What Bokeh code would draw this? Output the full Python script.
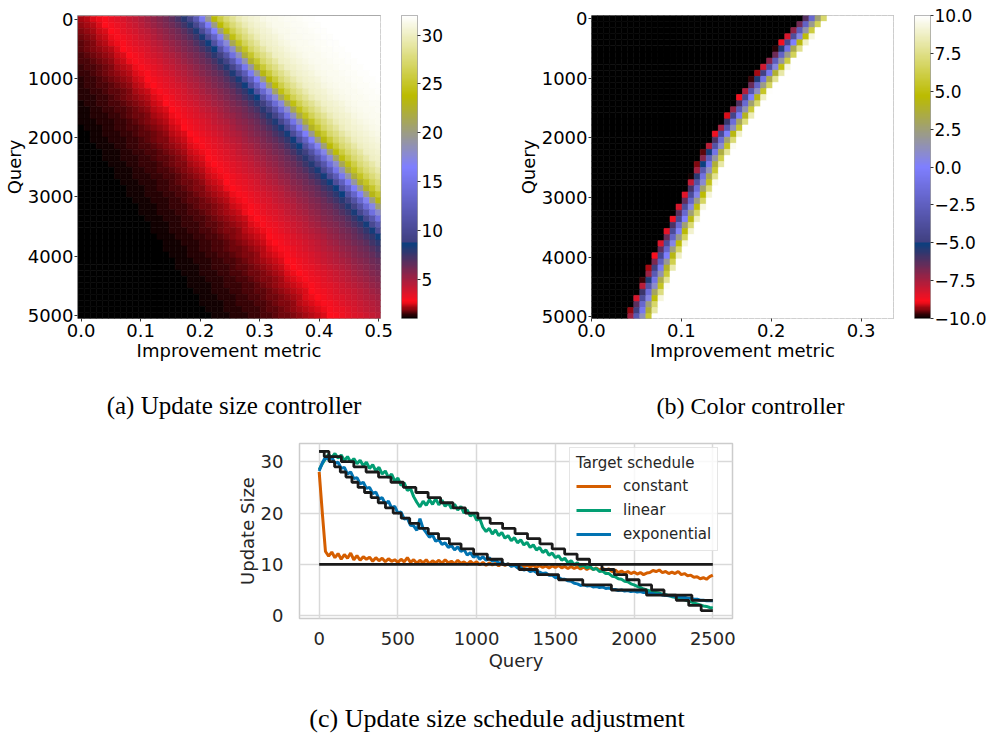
import numpy as np
from bokeh.plotting import figure
from bokeh.layouts import row, column
from bokeh.models import (Range1d, LinearColorMapper, Legend, LegendItem, Label,
                          FixedTicker, ColumnDataSource)
from bokeh.transform import transform
from bokeh.embed import file_html
from bokeh.resources import INLINE

# ---------------- data: panel (a) update size controller ----------------
a_metric_cells = np.linspace(0.0, 0.5, 50)
a_query_cells = np.linspace(0.0, 5000.0, 50)
# metric of the bright red ridge, per query row
a_red_metric = [0.032, 0.040, 0.048, 0.056, 0.063, 0.071, 0.079, 0.087, 0.095, 0.103,
                0.111, 0.118, 0.126, 0.134, 0.142, 0.150, 0.158, 0.166, 0.173, 0.181,
                0.189, 0.197, 0.205, 0.213, 0.221, 0.228, 0.236, 0.244, 0.252, 0.260,
                0.268, 0.276, 0.283, 0.291, 0.299, 0.307, 0.315, 0.323, 0.331, 0.338,
                0.346, 0.354, 0.362, 0.370, 0.378, 0.386, 0.393, 0.401, 0.409, 0.417]
# metric distance between the red ridge and the navy band, per query row
a_band_width = [0.149, 0.150, 0.151, 0.152, 0.153, 0.154, 0.155, 0.156, 0.157, 0.158,
                0.159, 0.160, 0.161, 0.162, 0.164, 0.165, 0.166, 0.167, 0.168, 0.169,
                0.170, 0.171, 0.172, 0.173, 0.174, 0.175, 0.176, 0.177, 0.178, 0.179,
                0.180, 0.181, 0.182, 0.184, 0.185, 0.186, 0.187, 0.188, 0.189, 0.190,
                0.191, 0.192, 0.193, 0.194, 0.195, 0.196, 0.197, 0.198, 0.199, 0.200]
# controller response across the band (position in band widths -> update size)
a_profile_pos = [-3.0, -1.25, -1.0, -0.75, -0.5, -0.25, -0.1, 0.0, 0.1, 0.25, 0.45, 0.8,
                 0.93, 1.0, 1.09, 1.16, 1.23, 1.3, 1.4, 1.6, 1.9, 2.5]
a_profile_size = [1.0, 1.0, 1.12, 1.3, 1.55, 2.0, 2.4, 2.7, 3.1, 3.7, 4.6, 6.5,
                  7.7, 8.75, 12.0, 16.0, 20.0, 24.0, 27.0, 30.0, 31.3, 32.0]

# ---------------- data: panel (b) color controller ----------------
b_metric_cells = (np.arange(50) + 0.5) * 0.336 / 50
b_query_cells = np.linspace(0.0, 5000.0, 50)
# metric of the red edge cell, per query row
b_edge_metric = [0.235, 0.229, 0.223, 0.218, 0.212, 0.207, 0.202, 0.196, 0.191, 0.186,
                 0.180, 0.175, 0.170, 0.165, 0.161, 0.156, 0.152, 0.147, 0.143, 0.138,
                 0.134, 0.130, 0.126, 0.122, 0.119, 0.116, 0.113, 0.110, 0.107, 0.104,
                 0.101, 0.097, 0.094, 0.091, 0.087, 0.084, 0.081, 0.077, 0.074, 0.071,
                 0.068, 0.065, 0.062, 0.059, 0.056, 0.053, 0.050, 0.047, 0.045, 0.042]
b_transition_slope = 650.0   # color units per unit of metric across the edge

# ---------------- data: panel (c) update size schedule ----------------
queries = list(range(0, 2501, 20))
size_constant = [28.0, 20.0, 12.5, 11.6, 12.4, 11.3, 12.1, 11.0, 11.9, 11.2,
                 12.2, 10.9, 11.7, 10.8, 11.5, 11.0, 11.4, 10.6, 11.3, 10.7,
                 11.2, 10.5, 11.1, 10.6, 10.9, 10.4, 11.0, 10.5, 11.3, 10.4,
                 10.9, 10.2, 10.8, 10.3, 10.9, 10.1, 10.7, 10.3, 10.8, 10.2,
                 10.9, 10.3, 10.6, 10.1, 10.8, 10.2, 10.5, 10.0, 10.6, 10.1,
                 10.5, 9.9, 10.4, 9.8, 10.3, 9.9, 10.2, 9.7, 10.2, 9.8,
                 10.1, 9.7, 10.0, 9.6, 10.0, 9.5, 9.9, 9.5, 9.8, 9.4,
                 9.8, 9.4, 9.7, 9.3, 9.7, 9.4, 9.8, 9.3, 9.6, 9.2,
                 9.6, 9.2, 9.5, 9.1, 9.5, 9.0, 9.4, 9.0, 9.3, 8.9,
                 9.2, 8.9, 9.1, 8.6, 8.9, 8.4, 8.7, 8.3, 8.6, 8.2,
                 8.5, 8.1, 8.4, 8.0, 8.3, 8.4, 8.8, 8.6, 8.9, 8.4,
                 8.6, 8.2, 8.5, 8.2, 8.6, 8.0, 8.2, 7.8, 7.9, 7.5,
                 7.6, 7.2, 7.4, 7.1, 7.6, 7.9]
size_linear = [28.5, 29.6, 30.6, 31.4, 30.8, 31.6, 30.7, 31.3, 30.2, 31.0,
               29.9, 30.6, 29.6, 30.3, 29.2, 29.9, 28.7, 29.4, 28.2, 28.9,
               27.6, 28.2, 26.9, 27.6, 26.2, 26.8, 25.4, 25.9, 24.4, 24.8,
               23.2, 22.1, 21.2, 22.3, 21.5, 22.6, 21.7, 22.8, 21.6, 22.5,
               21.3, 22.0, 20.9, 21.7, 20.6, 21.3, 20.0, 20.6, 19.4, 19.9,
               18.6, 18.9, 17.2, 16.4, 17.0, 15.9, 16.7, 15.6, 16.2, 15.1,
               15.6, 14.6, 15.2, 14.2, 14.8, 13.8, 14.3, 13.3, 13.8, 12.8,
               13.3, 12.3, 12.8, 11.8, 12.2, 11.3, 11.7, 10.8, 11.2, 10.3,
               10.7, 9.9, 10.3, 9.6, 9.9, 9.3, 9.6, 9.0, 9.2, 8.6,
               8.7, 8.2, 8.2, 7.7, 7.6, 7.2, 7.1, 6.7, 6.6, 6.2,
               6.0, 5.7, 5.5, 5.2, 5.0, 4.8, 4.7, 4.5, 4.4, 4.2,
               4.1, 3.9, 3.7, 3.6, 3.4, 3.3, 3.1, 2.9, 2.7, 2.5,
               2.3, 2.1, 1.9, 1.8, 1.6, 1.5]
size_exponential = [28.2, 29.8, 30.9, 30.4, 30.9, 29.7, 29.9, 28.7, 28.9, 27.6,
                    28.0, 26.7, 26.9, 25.7, 26.0, 24.8, 25.0, 23.8, 24.1, 22.7,
                    23.0, 21.8, 22.3, 21.0, 21.3, 20.0, 20.2, 18.8, 19.0, 17.6,
                    17.5, 16.6, 18.9, 17.0, 16.2, 15.3, 15.7, 14.5, 14.8, 13.9,
                    14.2, 13.3, 13.7, 12.8, 13.4, 12.5, 12.9, 11.8, 12.3, 11.4,
                    11.8, 11.0, 11.5, 10.8, 11.3, 10.6, 10.9, 10.2, 10.4, 9.9,
                    10.1, 9.6, 9.8, 9.3, 9.4, 8.9, 9.1, 8.6, 8.8, 8.4,
                    8.5, 8.2, 8.3, 7.9, 7.9, 7.4, 7.5, 7.1, 7.1, 6.8,
                    6.7, 6.3, 6.2, 5.9, 6.0, 5.8, 5.9, 5.6, 5.7, 5.5,
                    5.6, 5.3, 5.4, 5.1, 5.1, 4.9, 5.0, 4.8, 4.9, 4.7,
                    4.8, 4.6, 4.7, 4.5, 4.5, 4.3, 4.3, 4.1, 4.2, 4.0,
                    4.0, 3.9, 3.9, 3.7, 3.8, 3.6, 3.6, 3.4, 3.4, 3.2,
                    3.2, 3.0, 3.0, 2.9, 2.9, 2.9]
# target schedules (step breakpoints)
target_constant_q = [0, 2500]
target_constant_v = [10, 10]
target_linear_q = [0, 62, 141, 220, 298, 377, 456, 535, 614, 692, 771, 850, 929, 1008,
                   1086, 1165, 1244, 1323, 1402, 1480, 1559, 1638, 1717, 1796, 1874,
                   1953, 2032, 2111, 2190, 2268, 2347, 2426, 2500]
target_linear_v = [32, 31, 30, 29, 28, 27, 26, 25, 24, 23, 22, 21, 20, 19, 18, 17, 16,
                   15, 14, 13, 12, 11, 10, 9, 8, 7, 6, 5, 4, 3, 2, 1, 1]
target_exp_q = [0, 32, 64, 98, 134, 170, 208, 247, 288, 330, 375, 421, 470, 521, 575,
                633, 693, 758, 827, 901, 981, 1068, 1163, 1269, 1386, 1520, 1674,
                1856, 2079, 2367, 2500]
target_exp_v = [32, 31, 30, 29, 28, 27, 26, 25, 24, 23, 22, 21, 20, 19, 18, 17, 16,
                15, 14, 13, 12, 11, 10, 9, 8, 7, 6, 5, 4, 3, 3]

captions_top = ["(a) Update size controller", "(b) Color controller"]
caption_bottom = "(c) Update size schedule adjustment"


# ---------------- colormap (gist_stern) ----------------
def gist_stern(n=256):
    red = [(0.0, 0.0, 0.0), (0.0547, 1.0, 1.0), (0.250, 0.027, 0.250), (1.0, 1.0, 1.0)]
    green = [(0.0, 0.0, 0.0), (1.0, 1.0, 1.0)]
    blue = [(0.0, 0.0, 0.0), (0.5, 1.0, 1.0), (0.735, 0.0, 0.0), (1.0, 1.0, 1.0)]

    def chan(seg, t):
        for (x0, _, y0), (x1, y1, _) in zip(seg[:-1], seg[1:]):
            if x0 <= t <= x1:
                return y0 + (y1 - y0) * (t - x0) / (x1 - x0)
        return seg[-1][1]
    out = []
    for i in range(n):
        t = i / (n - 1)
        r, g, b = (chan(s, t) for s in (red, green, blue))
        out.append("#%02x%02x%02x" % (round(r * 255), round(g * 255), round(b * 255)))
    return out


PAL = gist_stern()
FONT = "DejaVu Sans"
SERIF = "Liberation Serif"
TOP_H = 385

mapper_a = LinearColorMapper(palette=PAL, low=1, high=32)
mapper_b = LinearColorMapper(palette=PAL, low=-10, high=10)


def style_heat_axes(p, xticks, xlabels):
    p.grid.visible = False
    p.outline_line_color = "#a0a0a0"
    p.outline_line_width = 1
    for ax in (p.xaxis, p.yaxis):
        ax.axis_line_color = None
        ax.major_tick_out = 3
        ax.major_tick_in = 0
        ax.major_tick_line_color = "#333333"
        ax.minor_tick_line_color = None
        ax.major_label_text_font = FONT
        ax.major_label_text_font_size = "18px"
        ax.major_label_text_color = "black"
        ax.axis_label_text_font = FONT
        ax.axis_label_text_font_size = "18px"
        ax.axis_label_text_font_style = "normal"
        ax.axis_label_text_color = "black"
    p.xaxis.ticker = FixedTicker(ticks=xticks)
    p.xaxis.major_label_overrides = {t: l for t, l in zip(xticks, xlabels)}
    p.yaxis.ticker = FixedTicker(ticks=[0, 1000, 2000, 3000, 4000, 5000])
    p.xaxis.major_label_standoff = 2
    p.yaxis.major_label_standoff = 1
    p.xaxis.axis_label_standoff = 0
    p.yaxis.axis_label_standoff = 0
    p.xaxis.axis_label = "Improvement metric"
    p.yaxis.axis_label = "Query"


def add_cells(p, xs, ys, vals, w, h, mapper):
    X, Y = np.meshgrid(xs, ys)
    src = ColumnDataSource(dict(x=X.ravel(), y=Y.ravel(), v=np.asarray(vals).ravel()))
    p.rect(x="x", y="y", width=w, height=h, source=src,
           fill_color=transform("v", mapper), line_color=transform("v", mapper),
           line_width=0.6)


def colorbar_fig(width, mb_left, mb_right, mb_top, lo, hi, mapper, ticks, labels):
    c = figure(width=width, height=TOP_H, x_range=(0, 1), y_range=(lo, hi),
               x_axis_location=None, y_axis_location="right",
               min_border_left=mb_left, min_border_right=mb_right,
               min_border_top=mb_top, min_border_bottom=TOP_H - 318,
               output_backend="svg", toolbar_location=None)
    c.image(image=[np.linspace(lo, hi, 256).reshape(256, 1)], x=0, y=lo, dw=1, dh=hi - lo,
            color_mapper=mapper)
    c.grid.visible = False
    c.outline_line_color = "#a0a0a0"
    ax = c.yaxis
    ax.axis_line_color = None
    ax.major_tick_out = 3
    ax.major_tick_in = 0
    ax.major_tick_line_color = "#333333"
    ax.minor_tick_line_color = None
    ax.ticker = FixedTicker(ticks=ticks)
    ax.major_label_overrides = {t: l for t, l in zip(ticks, labels)}
    ax.major_label_text_font = FONT
    ax.major_label_text_font_size = "17px"
    ax.major_label_text_color = "black"
    ax.major_label_standoff = 1
    return c


def caption_strip(height, items):
    s = figure(width=990, height=height, x_range=Range1d(0, 990), y_range=Range1d(0, height),
               x_axis_location=None, y_axis_location=None, min_border=0,
               output_backend="svg", toolbar_location=None)
    s.outline_line_color = None
    s.xgrid.visible = False
    s.ygrid.visible = False
    for text, cx, cy, size in items:
        s.add_layout(Label(x=cx, y=cy, text=text, text_align="center", text_baseline="middle",
                           text_font=SERIF, text_font_size=size, text_color="black"))
    return row(s)


# ---------------- panel (a) ----------------
rows_a = []
for red, wid in zip(a_red_metric, a_band_width):
    rows_a.append(np.interp((a_metric_cells - red) / wid, a_profile_pos, a_profile_size))
fa = figure(width=395, height=TOP_H, x_range=Range1d(-0.006, 0.503), y_range=Range1d(5050, -62),
            min_border_left=73, min_border_right=15, min_border_top=13, min_border_bottom=TOP_H - 318,
            output_backend="svg", toolbar_location=None)
add_cells(fa, a_metric_cells, a_query_cells, rows_a, 0.5 / 49, 5000 / 49, mapper_a)
style_heat_axes(fa, [0, 0.1, 0.2, 0.3, 0.4, 0.5], ["0.0", "0.1", "0.2", "0.3", "0.4", "0.5"])

cba = colorbar_fig(95, 6, 73, 13, 1, 32, mapper_a, [5, 10, 15, 20, 25, 30],
                   ["5", "10", "15", "20", "25", "30"])

# ---------------- panel (b) ----------------
rows_b = []
for edge in b_edge_metric:
    rows_b.append(np.clip(-10 + (b_metric_cells - (edge - 0.0023)) * b_transition_slope, -10, 10))
fb = figure(width=418, height=TOP_H, x_range=Range1d(0, 0.336), y_range=Range1d(5030, -50),
            min_border_left=101, min_border_right=15, min_border_top=15, min_border_bottom=TOP_H - 318,
            output_backend="svg", toolbar_location=None)
add_cells(fb, b_metric_cells, b_query_cells, rows_b, 0.336 / 50, 5000 / 49, mapper_b)
style_heat_axes(fb, [0, 0.1, 0.2, 0.3], ["0.0", "0.1", "0.2", "0.3"])

b_ticks = [-10, -7.5, -5, -2.5, 0, 2.5, 5, 7.5, 10]
b_labels = ["\u221210.0", "\u22127.5", "\u22125.0", "\u22122.5", "0.0", "2.5", "5.0", "7.5", "10.0"]
cbb = colorbar_fig(82, 6, 60, 15, -10, 10, mapper_b, b_ticks, b_labels)

strip1 = caption_strip(45, [(captions_top[0], 233.5, 25, "25px"),
                            (captions_top[1], 750, 25, "24px")])

# ---------------- panel (c) ----------------
fc = figure(width=990, height=270, x_range=Range1d(-125, 2625), y_range=Range1d(-0.55, 33.55),
            min_border_left=299, min_border_right=258, min_border_top=13, min_border_bottom=82,
            output_backend="svg", toolbar_location=None)
fc.outline_line_color = "#cccccc"
fc.outline_line_width = 1.5
fc.grid.grid_line_color = "#d9d9d9"
fc.grid.grid_line_width = 1.5
fc.xaxis.ticker = FixedTicker(ticks=[0, 500, 1000, 1500, 2000, 2500])
fc.yaxis.ticker = FixedTicker(ticks=[0, 10, 20, 30])
for ax in (fc.xaxis, fc.yaxis):
    ax.axis_line_color = None
    ax.major_tick_line_color = None
    ax.minor_tick_line_color = None
    ax.major_label_text_font = FONT
    ax.major_label_text_font_size = "18px"
    ax.major_label_text_color = "#262626"
    ax.axis_label_text_font = FONT
    ax.axis_label_text_font_size = "18px"
    ax.axis_label_text_font_style = "normal"
    ax.axis_label_text_color = "#262626"
fc.xaxis.major_label_standoff = 7
fc.yaxis.major_label_standoff = 10
fc.xaxis.axis_label_standoff = 2
fc.yaxis.axis_label_standoff = 0
fc.xaxis.axis_label = "Query"
fc.yaxis.axis_label = "Update Size"

r_c = fc.line(queries, size_constant, line_color="#d55e00", line_width=3)
r_l = fc.line(queries, size_linear, line_color="#029e73", line_width=3)
r_e = fc.line(queries, size_exponential, line_color="#0173b2", line_width=3)
fc.step(target_constant_q, target_constant_v, mode="after", line_color="#1a1a1a", line_width=2.8)
fc.step(target_linear_q, target_linear_v, mode="after", line_color="#1a1a1a", line_width=2.8)
fc.step(target_exp_q, target_exp_v, mode="after", line_color="#1a1a1a", line_width=2.8)

legend = Legend(items=[LegendItem(label="constant", renderers=[r_c]),
                       LegendItem(label="linear", renderers=[r_l]),
                       LegendItem(label="exponential", renderers=[r_e])],
                title="Target schedule", location=(270, 67))
legend.title_text_font = FONT
legend.title_text_font_size = "15px"
legend.title_text_font_style = "normal"
legend.title_text_color = "#262626"
legend.title_standoff = 4
legend.label_text_font = FONT
legend.label_text_font_size = "15px"
legend.label_text_color = "#262626"
legend.glyph_width = 35
legend.glyph_height = 20
legend.label_height = 20
legend.label_standoff = 12
legend.spacing = 4
legend.padding = 6
legend.margin = 0
legend.border_line_color = "#cccccc"
legend.border_line_width = 1
legend.background_fill_alpha = 0.8
fc.add_layout(legend)

strip2 = caption_strip(34, [(caption_bottom, 496.5, 16, "26px")])

page = column(row(fa, cba, fb, cbb), strip1, row(fc), strip2)
open("out.html", "w").write(file_html(page, INLINE))
